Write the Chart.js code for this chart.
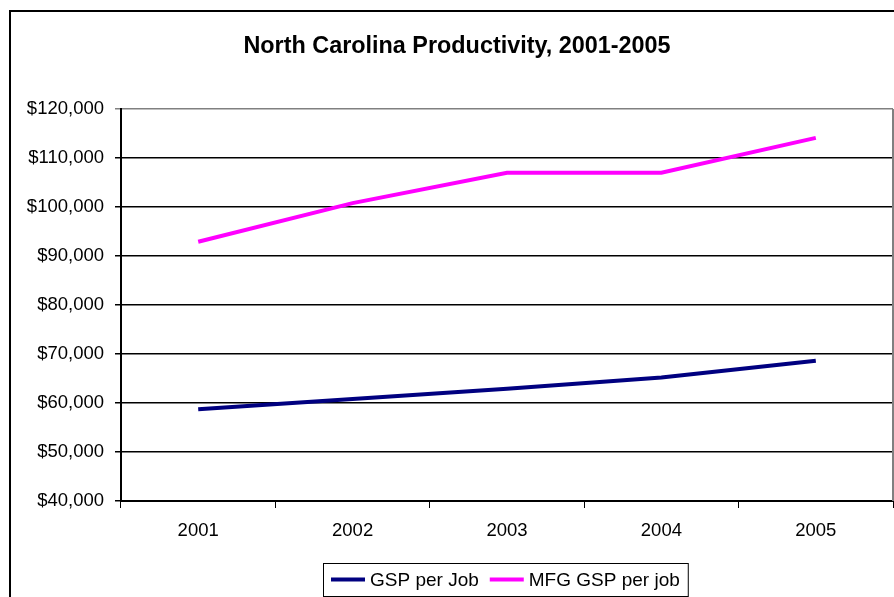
<!DOCTYPE html>
<html>
<head>
<meta charset="utf-8">
<title>North Carolina Productivity, 2001-2005</title>
<script src="https://cdn.jsdelivr.net/npm/chart.js@4.4.1/dist/chart.umd.min.js"></script>
<style>
  html, body { margin: 0; padding: 0; background: #fff; }
  #wrap { position: relative; width: 894px; height: 597px; }
</style>
</head>
<body>
<div id="wrap"><canvas id="chart" width="894" height="597"></canvas></div>
<script>
// Gross state product per job, North Carolina
const years = ['2001', '2002', '2003', '2004', '2005'];
const gspPerJob = [58700, 60800, 62900, 65200, 68600];
const mfgGspPerJob = [92900, 100800, 107000, 107000, 114100];
const seriesNames = ['GSP per Job', 'MFG GSP per job'];
const yMin = 40000, yMax = 120000, yStep = 10000;
const chartTitle = 'North Carolina Productivity, 2001-2005';

const FONT = '"Liberation Sans", Arial, Helvetica, sans-serif';

// Frame, title, plot border and boxed legend
const decorations = {
  id: 'decorations',
  beforeDraw(chart) {
    const ctx = chart.ctx;
    ctx.save();
    ctx.fillStyle = '#fff';
    ctx.fillRect(0, 0, chart.width, chart.height);
    ctx.strokeStyle = '#000';
    ctx.lineWidth = 2;
    ctx.strokeRect(10, 11, chart.width + 20, chart.height + 20);
    ctx.restore();
  },
  afterDraw(chart) {
    const ctx = chart.ctx;
    const a = chart.chartArea;
    ctx.save();
    // title
    ctx.fillStyle = '#000';
    ctx.font = 'bold 23.4px ' + FONT;
    ctx.textAlign = 'center';
    ctx.textBaseline = 'alphabetic';
    ctx.fillText(chartTitle, 457, 53);

    // right edge of plot area
    ctx.strokeStyle = '#808080';
    ctx.lineWidth = 2;
    ctx.beginPath();
    ctx.moveTo(a.right, a.top);
    ctx.lineTo(a.right, a.bottom);
    ctx.stroke();

    // legend
    ctx.font = '19px ' + FONT;
    ctx.textAlign = 'left';
    const sample = 34, gapText = 5, gapItem = 11, padL = 8, padR = 8;
    const items = chart.data.datasets.map(ds => ({
      label: ds.label, color: ds.borderColor, w: ctx.measureText(ds.label).width
    }));
    let total = padL + padR;
    items.forEach((it, i) => { total += sample + gapText + it.w + (i ? gapItem : 0); });
    const boxX = Math.round(505 - total / 2), boxY = 563, boxH = 33;
    ctx.strokeStyle = '#000';
    ctx.lineWidth = 1;
    ctx.strokeRect(boxX + 0.5, boxY + 0.5, total, boxH);
    let x = boxX + padL;
    items.forEach((it, i) => {
      if (i) x += gapItem;
      ctx.strokeStyle = it.color;
      ctx.lineWidth = 4;
      ctx.beginPath();
      ctx.moveTo(x, 579.5);
      ctx.lineTo(x + sample, 579.5);
      ctx.stroke();
      x += sample + gapText;
      ctx.fillStyle = '#000';
      ctx.fillText(it.label, x, 586);
      x += it.w;
    });
    ctx.restore();
  }
};

new Chart(document.getElementById('chart'), {
  type: 'line',
  data: {
    labels: years,
    datasets: [
      {
        label: seriesNames[0],
        data: gspPerJob,
        borderColor: '#000080',
        backgroundColor: '#000080',
        borderWidth: 4,
        pointRadius: 0,
        tension: 0,
        borderCapStyle: 'butt'
      },
      {
        label: seriesNames[1],
        data: mfgGspPerJob,
        borderColor: '#FF00FF',
        backgroundColor: '#FF00FF',
        borderWidth: 4,
        pointRadius: 0,
        tension: 0,
        borderCapStyle: 'butt'
      }
    ]
  },
  options: {
    responsive: false,
    animation: false,
    events: [],
    layout: { padding: { top: 109, left: 0, right: 1, bottom: 0 } },
    plugins: {
      legend: { display: false },
      title: { display: false },
      tooltip: { enabled: false }
    },
    scales: {
      x: {
        offset: true,
        afterFit(s) { s.height = 96; },
        grid: {
          offset: true,
          drawOnChartArea: false,
          drawTicks: true,
          tickLength: 7,
          color: '#000',
          lineWidth: 1
        },
        border: { display: true, color: '#000', width: 2 },
        ticks: {
          color: '#000',
          font: { family: FONT, size: 18.5 },
          padding: 12,
          maxRotation: 0
        }
      },
      y: {
        min: yMin,
        max: yMax,
        afterFit(s) { s.width = 121; },
        grid: {
          color: ctx => (ctx.tick && ctx.tick.value === yMax ? '#808080' : '#000'),
          lineWidth: 1.5,
          tickLength: 6,
          drawTicks: true
        },
        border: { display: true, color: '#000', width: 2 },
        ticks: {
          stepSize: yStep,
          color: '#000',
          font: { family: FONT, size: 18.5 },
          padding: 11,
          callback: v => '$' + Number(v).toLocaleString('en-US')
        }
      }
    }
  },
  plugins: [decorations]
});
</script>
</body>
</html>
